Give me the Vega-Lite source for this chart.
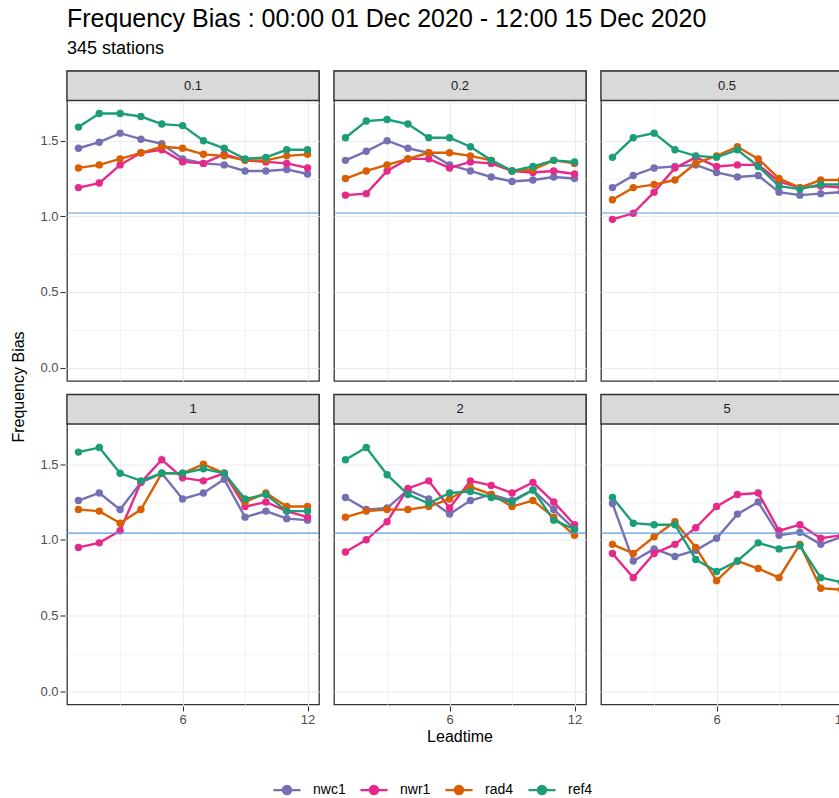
{
  "$schema": "https://vega.github.io/schema/vega-lite/v6.json",
  "padding": {"left": 10, "top": 6, "right": 0, "bottom": 0},
  "background": "white",
  "title": {
    "text": "Frequency Bias : 00:00 01 Dec 2020 - 12:00 15 Dec 2020",
    "subtitle": "345 stations",
    "anchor": "start",
    "frame": "group",
    "font": "Liberation Sans",
    "fontSize": 25,
    "fontWeight": "normal",
    "color": "#000000",
    "subtitleFont": "Liberation Sans",
    "subtitleFontSize": 18,
    "subtitleColor": "#000000",
    "subtitlePadding": 8,
    "offset": 12
  },
  "datasets": {
    "fb": [
      {"q": "0.1", "lt": 1, "nwc1": 1.45, "nwr1": 1.19, "rad4": 1.32, "ref4": 1.59},
      {"q": "0.1", "lt": 2, "nwc1": 1.49, "nwr1": 1.22, "rad4": 1.34, "ref4": 1.68},
      {"q": "0.1", "lt": 3, "nwc1": 1.55, "nwr1": 1.34, "rad4": 1.38, "ref4": 1.68},
      {"q": "0.1", "lt": 4, "nwc1": 1.51, "nwr1": 1.42, "rad4": 1.42, "ref4": 1.66},
      {"q": "0.1", "lt": 5, "nwc1": 1.48, "nwr1": 1.44, "rad4": 1.46, "ref4": 1.61},
      {"q": "0.1", "lt": 6, "nwc1": 1.38, "nwr1": 1.36, "rad4": 1.45, "ref4": 1.60},
      {"q": "0.1", "lt": 7, "nwc1": 1.35, "nwr1": 1.35, "rad4": 1.41, "ref4": 1.50},
      {"q": "0.1", "lt": 8, "nwc1": 1.34, "nwr1": 1.41, "rad4": 1.40, "ref4": 1.45},
      {"q": "0.1", "lt": 9, "nwc1": 1.30, "nwr1": 1.37, "rad4": 1.37, "ref4": 1.38},
      {"q": "0.1", "lt": 10, "nwc1": 1.30, "nwr1": 1.36, "rad4": 1.37, "ref4": 1.39},
      {"q": "0.1", "lt": 11, "nwc1": 1.31, "nwr1": 1.35, "rad4": 1.40, "ref4": 1.44},
      {"q": "0.1", "lt": 12, "nwc1": 1.28, "nwr1": 1.32, "rad4": 1.41, "ref4": 1.44},
      {"q": "0.2", "lt": 1, "nwc1": 1.37, "nwr1": 1.14, "rad4": 1.25, "ref4": 1.52},
      {"q": "0.2", "lt": 2, "nwc1": 1.43, "nwr1": 1.15, "rad4": 1.30, "ref4": 1.63},
      {"q": "0.2", "lt": 3, "nwc1": 1.50, "nwr1": 1.30, "rad4": 1.34, "ref4": 1.64},
      {"q": "0.2", "lt": 4, "nwc1": 1.45, "nwr1": 1.38, "rad4": 1.38, "ref4": 1.61},
      {"q": "0.2", "lt": 5, "nwc1": 1.42, "nwr1": 1.38, "rad4": 1.42, "ref4": 1.52},
      {"q": "0.2", "lt": 6, "nwc1": 1.34, "nwr1": 1.32, "rad4": 1.42, "ref4": 1.52},
      {"q": "0.2", "lt": 7, "nwc1": 1.30, "nwr1": 1.36, "rad4": 1.40, "ref4": 1.46},
      {"q": "0.2", "lt": 8, "nwc1": 1.26, "nwr1": 1.35, "rad4": 1.37, "ref4": 1.37},
      {"q": "0.2", "lt": 9, "nwc1": 1.23, "nwr1": 1.30, "rad4": 1.30, "ref4": 1.30},
      {"q": "0.2", "lt": 10, "nwc1": 1.24, "nwr1": 1.29, "rad4": 1.31, "ref4": 1.33},
      {"q": "0.2", "lt": 11, "nwc1": 1.26, "nwr1": 1.30, "rad4": 1.37, "ref4": 1.37},
      {"q": "0.2", "lt": 12, "nwc1": 1.25, "nwr1": 1.28, "rad4": 1.35, "ref4": 1.36},
      {"q": "0.5", "lt": 1, "nwc1": 1.19, "nwr1": 0.98, "rad4": 1.11, "ref4": 1.39},
      {"q": "0.5", "lt": 2, "nwc1": 1.27, "nwr1": 1.02, "rad4": 1.19, "ref4": 1.52},
      {"q": "0.5", "lt": 3, "nwc1": 1.32, "nwr1": 1.16, "rad4": 1.21, "ref4": 1.55},
      {"q": "0.5", "lt": 4, "nwc1": 1.33, "nwr1": 1.32, "rad4": 1.24, "ref4": 1.44},
      {"q": "0.5", "lt": 5, "nwc1": 1.34, "nwr1": 1.39, "rad4": 1.35, "ref4": 1.40},
      {"q": "0.5", "lt": 6, "nwc1": 1.29, "nwr1": 1.33, "rad4": 1.40, "ref4": 1.39},
      {"q": "0.5", "lt": 7, "nwc1": 1.26, "nwr1": 1.34, "rad4": 1.46, "ref4": 1.44},
      {"q": "0.5", "lt": 8, "nwc1": 1.27, "nwr1": 1.34, "rad4": 1.38, "ref4": 1.33},
      {"q": "0.5", "lt": 9, "nwc1": 1.16, "nwr1": 1.23, "rad4": 1.25, "ref4": 1.20},
      {"q": "0.5", "lt": 10, "nwc1": 1.14, "nwr1": 1.19, "rad4": 1.19, "ref4": 1.18},
      {"q": "0.5", "lt": 11, "nwc1": 1.15, "nwr1": 1.20, "rad4": 1.24, "ref4": 1.21},
      {"q": "0.5", "lt": 12, "nwc1": 1.16, "nwr1": 1.19, "rad4": 1.24, "ref4": 1.21},
      {"q": "1", "lt": 1, "nwc1": 1.26, "nwr1": 0.95, "rad4": 1.20, "ref4": 1.58},
      {"q": "1", "lt": 2, "nwc1": 1.31, "nwr1": 0.98, "rad4": 1.19, "ref4": 1.61},
      {"q": "1", "lt": 3, "nwc1": 1.20, "nwr1": 1.06, "rad4": 1.11, "ref4": 1.44},
      {"q": "1", "lt": 4, "nwc1": 1.38, "nwr1": 1.38, "rad4": 1.20, "ref4": 1.39},
      {"q": "1", "lt": 5, "nwc1": 1.44, "nwr1": 1.53, "rad4": 1.44, "ref4": 1.44},
      {"q": "1", "lt": 6, "nwc1": 1.27, "nwr1": 1.41, "rad4": 1.44, "ref4": 1.44},
      {"q": "1", "lt": 7, "nwc1": 1.31, "nwr1": 1.39, "rad4": 1.50, "ref4": 1.47},
      {"q": "1", "lt": 8, "nwc1": 1.40, "nwr1": 1.44, "rad4": 1.44, "ref4": 1.44},
      {"q": "1", "lt": 9, "nwc1": 1.15, "nwr1": 1.22, "rad4": 1.25, "ref4": 1.27},
      {"q": "1", "lt": 10, "nwc1": 1.19, "nwr1": 1.25, "rad4": 1.31, "ref4": 1.30},
      {"q": "1", "lt": 11, "nwc1": 1.14, "nwr1": 1.19, "rad4": 1.22, "ref4": 1.19},
      {"q": "1", "lt": 12, "nwc1": 1.13, "nwr1": 1.15, "rad4": 1.22, "ref4": 1.19},
      {"q": "2", "lt": 1, "nwc1": 1.28, "nwr1": 0.92, "rad4": 1.15, "ref4": 1.53},
      {"q": "2", "lt": 2, "nwc1": 1.20, "nwr1": 1.00, "rad4": 1.19, "ref4": 1.61},
      {"q": "2", "lt": 3, "nwc1": 1.21, "nwr1": 1.12, "rad4": 1.20, "ref4": 1.43},
      {"q": "2", "lt": 4, "nwc1": 1.33, "nwr1": 1.34, "rad4": 1.20, "ref4": 1.30},
      {"q": "2", "lt": 5, "nwc1": 1.27, "nwr1": 1.39, "rad4": 1.22, "ref4": 1.24},
      {"q": "2", "lt": 6, "nwc1": 1.17, "nwr1": 1.21, "rad4": 1.27, "ref4": 1.31},
      {"q": "2", "lt": 7, "nwc1": 1.26, "nwr1": 1.39, "rad4": 1.35, "ref4": 1.32},
      {"q": "2", "lt": 8, "nwc1": 1.30, "nwr1": 1.36, "rad4": 1.30, "ref4": 1.28},
      {"q": "2", "lt": 9, "nwc1": 1.26, "nwr1": 1.31, "rad4": 1.22, "ref4": 1.25},
      {"q": "2", "lt": 10, "nwc1": 1.33, "nwr1": 1.38, "rad4": 1.26, "ref4": 1.33},
      {"q": "2", "lt": 11, "nwc1": 1.20, "nwr1": 1.25, "rad4": 1.15, "ref4": 1.13},
      {"q": "2", "lt": 12, "nwc1": 1.07, "nwr1": 1.10, "rad4": 1.03, "ref4": 1.07},
      {"q": "5", "lt": 1, "nwc1": 1.24, "nwr1": 0.91, "rad4": 0.97, "ref4": 1.28},
      {"q": "5", "lt": 2, "nwc1": 0.86, "nwr1": 0.75, "rad4": 0.91, "ref4": 1.11},
      {"q": "5", "lt": 3, "nwc1": 0.94, "nwr1": 0.91, "rad4": 1.02, "ref4": 1.10},
      {"q": "5", "lt": 4, "nwc1": 0.89, "nwr1": 0.97, "rad4": 1.12, "ref4": 1.10},
      {"q": "5", "lt": 5, "nwc1": 0.93, "nwr1": 1.08, "rad4": 0.95, "ref4": 0.87},
      {"q": "5", "lt": 6, "nwc1": 1.01, "nwr1": 1.22, "rad4": 0.73, "ref4": 0.79},
      {"q": "5", "lt": 7, "nwc1": 1.17, "nwr1": 1.30, "rad4": 0.86, "ref4": 0.86},
      {"q": "5", "lt": 8, "nwc1": 1.25, "nwr1": 1.31, "rad4": 0.81, "ref4": 0.98},
      {"q": "5", "lt": 9, "nwc1": 1.03, "nwr1": 1.06, "rad4": 0.75, "ref4": 0.94},
      {"q": "5", "lt": 10, "nwc1": 1.05, "nwr1": 1.10, "rad4": 0.97, "ref4": 0.96},
      {"q": "5", "lt": 11, "nwc1": 0.97, "nwr1": 1.01, "rad4": 0.68, "ref4": 0.75},
      {"q": "5", "lt": 12, "nwc1": 1.02, "nwr1": 1.03, "rad4": 0.67, "ref4": 0.72},
      {"q": "0.1", "hline": 1.022},
      {"q": "0.2", "hline": 1.022},
      {"q": "0.5", "hline": 1.022},
      {"q": "1", "hline": 1.044},
      {"q": "2", "hline": 1.044},
      {"q": "5", "hline": 1.044}
    ]
  },
  "data": {"name": "fb"},
  "transform": [
    {"calculate": "indexof(['0.1', '0.2', '0.5'], datum.q) >= 0 ? 'upper' : 'lower'", "as": "panel_row"},
    {"calculate": "datum.q === '0.1' || datum.q === '1' ? 'a' : (datum.q === '0.2' || datum.q === '2' ? 'b' : 'c')", "as": "panel_col"}
  ],
  "facet": {
    "row": {
      "field": "panel_row", "type": "nominal", "sort": ["upper", "lower"],
      "title": "Frequency Bias",
      "header": {"labels": false, "titleOrient": "left", "titleAngle": -90, "titlePadding": -14}
    },
    "column": {
      "field": "panel_col", "type": "nominal", "sort": ["a", "b", "c"],
      "title": "Leadtime",
      "header": {"labels": false, "titleOrient": "bottom", "titlePadding": -7}
    }
  },
  "spacing": {"row": 10.5, "column": 11},
  "spec": {
    "width": 252,
    "height": 310,
    "layer": [
      {
        "transform": [
          {"filter": "isValid(datum.lt)"},
          {"fold": ["nwc1", "nwr1", "rad4", "ref4"], "as": ["model", "bias"]}
        ],
        "mark": {"type": "line", "strokeWidth": 2.4},
        "encoding": {
          "x": {
            "field": "lt", "type": "quantitative",
            "scale": {"domain": [0.45, 12.55], "nice": false, "zero": false},
            "axis": {
              "title": null,
              "values": [3, 6, 9, 12],
              "labelExpr": "datum.value % 6 === 0 ? datum.label : ''",
              "tickOpacity": {"condition": {"test": "datum.value % 6 === 0", "value": 1}, "value": 0},
              "gridWidth": {"condition": {"test": "datum.value % 6 === 0", "value": 1.1}, "value": 0.6}
            }
          },
          "y": {
            "field": "bias", "type": "quantitative",
            "scale": {"domain": [-0.089, 1.961], "nice": false, "zero": false},
            "axis": {
              "title": null,
              "values": [0, 0.25, 0.5, 0.75, 1, 1.25, 1.5, 1.75],
              "labelExpr": "datum.value % 0.5 === 0 ? format(datum.value, '.1f') : ''",
              "tickOpacity": {"condition": {"test": "datum.value % 0.5 === 0", "value": 1}, "value": 0},
              "gridWidth": {"condition": {"test": "datum.value % 0.5 === 0", "value": 1.1}, "value": 0.6}
            }
          },
          "color": {
            "field": "model", "type": "nominal",
            "scale": {"domain": ["nwc1", "nwr1", "rad4", "ref4"], "range": ["#7570B3", "#E7298A", "#D95F02", "#1B9E77"]}
          }
        }
      },
      {
        "transform": [
          {"filter": "isValid(datum.lt)"},
          {"fold": ["nwc1", "nwr1", "rad4", "ref4"], "as": ["model", "bias"]}
        ],
        "mark": {"type": "point", "filled": true, "size": 55, "opacity": 1},
        "encoding": {
          "x": {"field": "lt", "type": "quantitative"},
          "y": {"field": "bias", "type": "quantitative"},
          "color": {"field": "model", "type": "nominal"}
        }
      },
      {
        "transform": [{"filter": "isValid(datum.hline)"}],
        "mark": {"type": "rule", "color": "#5b9bd5", "strokeWidth": 1.2},
        "encoding": {
          "y": {"field": "hline", "type": "quantitative"}
        }
      },
      {
        "transform": [{"filter": "isValid(datum.hline)"}],
        "mark": {"type": "rect", "fill": "#d9d9d9", "stroke": "#333333", "strokeWidth": 1.3},
        "encoding": {
          "x": {"datum": 0.45},
          "x2": {"datum": 12.55},
          "y": {"datum": 1.766},
          "y2": {"datum": 1.961}
        }
      },
      {
        "transform": [{"filter": "isValid(datum.hline)"}],
        "mark": {"type": "text", "font": "Liberation Sans", "fontSize": 13, "color": "#1a1a1a", "baseline": "middle", "align": "center"},
        "encoding": {
          "x": {"datum": 6.5},
          "y": {"datum": 1.8635},
          "text": {"field": "q", "type": "nominal"}
        }
      }
    ]
  },
  "config": {
    "font": "Liberation Sans",
    "view": {"stroke": "#333333", "strokeWidth": 1.3},
    "header": {
      "labels": false,
      "labelPadding": 0,
      "titleFont": "Liberation Sans",
      "titleFontSize": 16,
      "titleFontWeight": "normal",
      "titleColor": "#000000"
    },
    "axis": {
      "domain": false,
      "gridColor": "#ebebeb",
      "tickColor": "#333333",
      "tickSize": 5,
      "tickWidth": 1.1,
      "labelColor": "#4d4d4d",
      "labelFontSize": 13,
      "labelFont": "Liberation Sans",
      "labelPadding": 2
    },
    "legend": {
      "title": null,
      "orient": "bottom",
      "direction": "horizontal",
      "symbolType": "M-1,0L1,0M0.3,0A0.3,0.3,0,1,1,-0.3,0A0.3,0.3,0,1,1,0.3,0Z",
      "symbolSize": 729,
      "symbolStrokeWidth": 2.4,
      "symbolOpacity": 1,
      "labelFontSize": 14,
      "labelFont": "Liberation Sans",
      "labelColor": "#000000",
      "labelOffset": 11,
      "columnPadding": 9,
      "offset": 30,
      "layout": {"bottom": {"anchor": "middle"}}
    }
  }
}
